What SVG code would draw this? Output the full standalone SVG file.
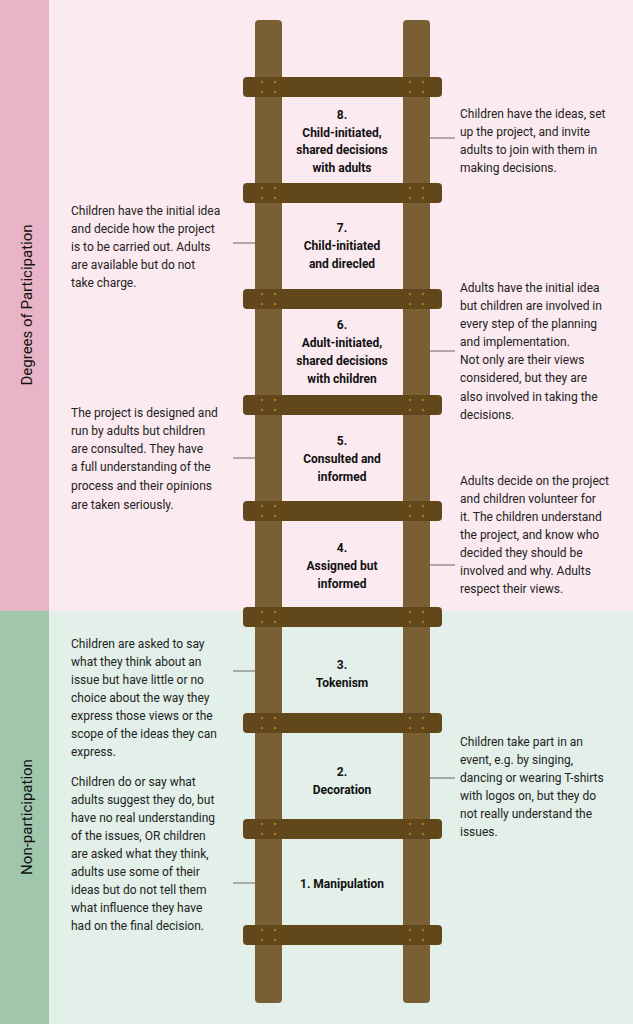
<svg xmlns="http://www.w3.org/2000/svg" width="633" height="1024" viewBox="0 0 633 1024">
<style>
.t{font-family:Roboto,"Liberation Sans",sans-serif;font-size:12px;fill:#222}
.b{font-family:Roboto,"Liberation Sans",sans-serif;font-size:12px;font-weight:bold;fill:#111;text-anchor:middle}
.s{font-family:Roboto,"Liberation Sans",sans-serif;font-size:15px;fill:#111;text-anchor:middle}
.rail{fill:#7a5f34}
.rung{fill:#61471a}
.dot{fill:#a07a30}
.c{stroke:#666;stroke-width:1}
</style>
<defs>
<g id="rg"><rect class="rung" x="243" y="0" width="199" height="20" rx="4"/>
<circle class="dot" cx="262" cy="5" r="1.3"/><circle class="dot" cx="275" cy="5" r="1.3"/><circle class="dot" cx="262" cy="15" r="1.3"/><circle class="dot" cx="275" cy="15" r="1.3"/>
<circle class="dot" cx="410" cy="5" r="1.3"/><circle class="dot" cx="423" cy="5" r="1.3"/><circle class="dot" cx="410" cy="15" r="1.3"/><circle class="dot" cx="423" cy="15" r="1.3"/></g>
</defs>
<rect x="0" y="0" width="633" height="611" fill="#fbeaf0"/>
<rect x="0" y="611" width="633" height="413" fill="#e2f0e9"/>
<rect x="0" y="0" width="49" height="611" fill="#e8b4c8"/>
<rect x="0" y="611" width="49" height="413" fill="#a0c6ac"/>
<text class="s" transform="translate(32,305) rotate(-90)">Degrees of Participation</text>
<text class="s" transform="translate(32,817) rotate(-90)">Non-participation</text>
<g id="ladder">
<rect class="rail" x="255" y="20" width="27" height="983" rx="4"/>
<rect class="rail" x="403" y="20" width="27" height="983" rx="4"/>
<use href="#rg" y="77"/><use href="#rg" y="183"/><use href="#rg" y="289"/><use href="#rg" y="395"/><use href="#rg" y="501"/><use href="#rg" y="607"/><use href="#rg" y="713"/><use href="#rg" y="819"/><use href="#rg" y="925"/>
</g>
<g id="connectors">
<line class="c" x1="430" y1="138" x2="455" y2="138"/>
<line class="c" x1="233" y1="243" x2="255" y2="243"/>
<line class="c" x1="430" y1="351" x2="455" y2="351"/>
<line class="c" x1="233" y1="458" x2="255" y2="458"/>
<line class="c" x1="430" y1="565" x2="455" y2="565"/>
<line class="c" x1="233" y1="671" x2="255" y2="671"/>
<line class="c" x1="430" y1="778" x2="455" y2="778"/>
<line class="c" x1="233" y1="883" x2="255" y2="883"/>
</g>
<g id="n8"><text class="b" x="342"><tspan x="342" y="119">8.</tspan><tspan x="342" y="137">Child-initiated,</tspan><tspan x="342" y="154">shared decisions</tspan><tspan x="342" y="172">with adults</tspan></text>
<text class="t"><tspan x="460" y="118">Children have the ideas, set</tspan><tspan x="460" y="136">up the project, and invite</tspan><tspan x="460" y="154">adults to join with them in</tspan><tspan x="460" y="172">making decisions.</tspan></text></g>
<g id="n7"><text class="b"><tspan x="342" y="232">7.</tspan><tspan x="342" y="250">Child-initiated</tspan><tspan x="342" y="268">and direcled</tspan></text>
<text class="t"><tspan x="71" y="215">Children have the initial idea</tspan><tspan x="71" y="233">and decide how the project</tspan><tspan x="71" y="251">is to be carried out. Adults</tspan><tspan x="71" y="269">are available but do not</tspan><tspan x="71" y="287">take charge.</tspan></text></g>
<g id="n6"><text class="b"><tspan x="342" y="329">6.</tspan><tspan x="342" y="347">Adult-initiated,</tspan><tspan x="342" y="365">shared decisions</tspan><tspan x="342" y="383">with children</tspan></text>
<text class="t"><tspan x="460" y="292">Adults have the initial idea</tspan><tspan x="460" y="310">but children are involved in</tspan><tspan x="460" y="328">every step of the planning</tspan><tspan x="460" y="346">and implementation.</tspan><tspan x="460" y="364">Not only are their views</tspan><tspan x="460" y="382">considered, but they are</tspan><tspan x="460" y="401">also involved in taking the</tspan><tspan x="460" y="419">decisions.</tspan></text></g>
<g id="n5"><text class="b"><tspan x="342" y="445">5.</tspan><tspan x="342" y="463">Consulted and</tspan><tspan x="342" y="481">informed</tspan></text>
<text class="t"><tspan x="71" y="417">The project is designed and</tspan><tspan x="71" y="435">run by adults but children</tspan><tspan x="71" y="453">are consulted. They have</tspan><tspan x="71" y="471">a full understanding of the</tspan><tspan x="71" y="490">process and their opinions</tspan><tspan x="71" y="509">are taken seriously.</tspan></text></g>
<g id="n4"><text class="b"><tspan x="342" y="552">4.</tspan><tspan x="342" y="570">Assigned but</tspan><tspan x="342" y="588">informed</tspan></text>
<text class="t"><tspan x="460" y="485">Adults decide on the project</tspan><tspan x="460" y="503">and children volunteer for</tspan><tspan x="460" y="521">it. The children understand</tspan><tspan x="460" y="539">the project, and know who</tspan><tspan x="460" y="557">decided they should be</tspan><tspan x="460" y="575">involved and why. Adults</tspan><tspan x="460" y="593">respect their views.</tspan></text></g>
<g id="n3"><text class="b"><tspan x="342" y="669">3.</tspan><tspan x="342" y="687">Tokenism</tspan></text>
<text class="t"><tspan x="71" y="648">Children are asked to say</tspan><tspan x="71" y="666">what they think about an</tspan><tspan x="71" y="684">issue but have little or no</tspan><tspan x="71" y="702">choice about the way they</tspan><tspan x="71" y="720">express those views or the</tspan><tspan x="71" y="738">scope of the ideas they can</tspan><tspan x="71" y="756">express.</tspan></text></g>
<g id="n2"><text class="b"><tspan x="342" y="776">2.</tspan><tspan x="342" y="794">Decoration</tspan></text>
<text class="t"><tspan x="460" y="746">Children take part in an</tspan><tspan x="460" y="764">event, e.g. by singing,</tspan><tspan x="460" y="782">dancing or wearing T-shirts</tspan><tspan x="460" y="800">with logos on, but they do</tspan><tspan x="460" y="818">not really understand the</tspan><tspan x="460" y="836">issues.</tspan></text></g>
<g id="n1"><text class="b"><tspan x="342" y="888">1. Manipulation</tspan></text>
<text class="t"><tspan x="71" y="786">Children do or say what</tspan><tspan x="71" y="804">adults suggest they do, but</tspan><tspan x="71" y="822">have no real understanding</tspan><tspan x="71" y="840">of the issues, OR children</tspan><tspan x="71" y="858">are asked what they think,</tspan><tspan x="71" y="876">adults use some of their</tspan><tspan x="71" y="894">ideas but do not tell them</tspan><tspan x="71" y="912">what influence they have</tspan><tspan x="71" y="930">had on the final decision.</tspan></text></g>
</svg>
